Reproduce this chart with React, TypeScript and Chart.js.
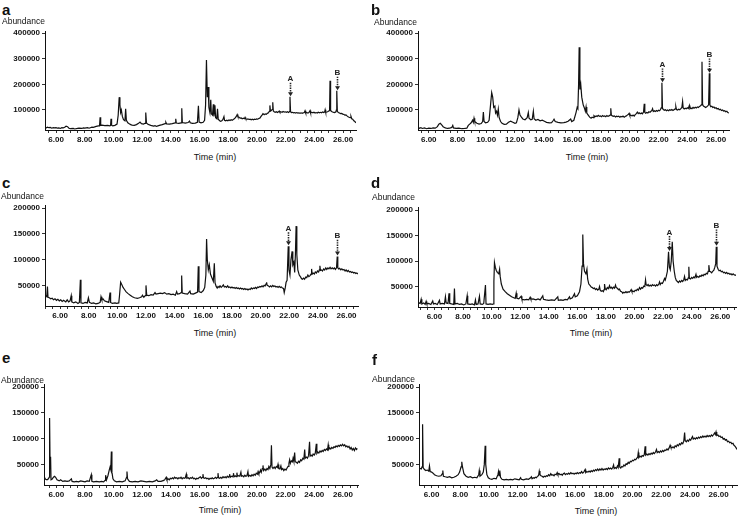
import React, { useEffect, useRef } from 'react';
import { Chart, registerables } from 'chart.js';
Chart.register(...registerables);

type Pt = [number, number];

// ---- chromatogram traces: [time (min), abundance] ----
const TRACE_A: Pt[] = [
  [5.23,35000],[5.3,30000],[5.4,33000],[5.5,31000],[5.6,32000],[5.7,29000],[5.8,31000],[5.9,30000],[6.0,31000],[6.1,29000],
  [6.2,30000],[6.3,28000],[6.4,31000],[6.5,30000],[6.6,33000],[6.7,37000],[6.8,35000],[6.9,29000],[7.0,27000],[7.2,28000],
  [7.3,26000],[7.5,28000],[7.6,29000],[7.8,28000],[7.9,30000],[8.0,29000],[8.2,31000],[8.3,29000],[8.5,33000],[8.6,32000],
  [8.8,36000],[8.95,38000],[9.03,38000],[9.07,72000],[9.11,40000],[9.2,41000],[9.4,39000],[9.6,40000],[9.75,38000],[9.8,40000],
  [9.83,66000],[9.87,41000],[9.95,38000],[10.1,40000],[10.25,45000],[10.33,80000],[10.4,150000],[10.45,120000],[10.5,90000],[10.55,100000],
  [10.62,75000],[10.7,62000],[10.8,58000],[10.85,105000],[10.9,60000],[11.0,50000],[11.1,46000],[11.2,43000],[11.3,41000],[11.45,40000],
  [11.6,43000],[11.75,48000],[11.85,53000],[11.95,47000],[12.1,45000],[12.2,48000],[12.25,90000],[12.3,50000],[12.4,44000],[12.6,40000],
  [12.8,37000],[12.9,39000],[13.0,36000],[13.2,40000],[13.4,43000],[13.6,47000],[13.65,52000],[13.7,46000],[13.9,45000],[14.1,47000],
  [14.3,50000],[14.34,66000],[14.38,49000],[14.55,48000],[14.72,50000],[14.76,107000],[14.8,51000],[15.0,49000],[15.2,51000],[15.3,57000],
  [15.35,50000],[15.5,48000],[15.7,49000],[15.85,52000],[15.92,116000],[15.97,53000],[16.1,50000],[16.25,52000],[16.35,60000],[16.42,120000],
  [16.48,295000],[16.54,150000],[16.6,190000],[16.65,110000],[16.72,90000],[16.78,140000],[16.82,85000],[16.9,80000],[16.96,122000],[17.0,75000],
  [17.07,118000],[17.12,70000],[17.2,66000],[17.25,105000],[17.3,64000],
  [17.4,58000],[17.47,56000],[17.55,58000],[17.62,62000],[17.7,74000],[17.74,60000],[17.82,58000],[17.9,60000],[17.97,58000],[18.05,61000],
  [18.12,59000],[18.2,62000],[18.27,60000],[18.35,63000],[18.42,66000],[18.5,70000],[18.57,76000],[18.62,82000],[18.67,74000],[18.75,72000],
  [18.82,68000],[18.9,69000],[18.97,66000],[19.05,68000],[19.12,66000],[19.17,71000],[19.22,65000],[19.3,64000],[19.37,65000],[19.45,63000],
  [19.52,64000],[19.6,62000],[19.67,64000],[19.75,62000],[19.82,64000],[19.9,63000],[19.97,65000],[20.05,64000],[20.12,67000],[20.2,68000],
  [20.27,74000],[20.35,80000],[20.42,86000],[20.5,82000],[20.57,85000],[20.65,83000],[20.72,87000],[20.8,89000],[20.86,95000],[20.9,118000],
  [20.94,96000],[21.0,98000],[21.05,102000],[21.1,130000],[21.14,96000],[21.2,93000],[21.27,91000],[21.35,93000],[21.42,90000],[21.5,93000],
  [21.55,96000],[21.6,91000],[21.67,93000],[21.75,91000],[21.82,94000],[21.9,92000],[21.97,93000],[22.05,91000],[22.12,93000],[22.2,90000],
  [22.26,94000],[22.3,152000],[22.34,93000],[22.4,90000],[22.47,91000],[22.55,89000],[22.62,90000],[22.7,88000],[22.77,90000],[22.85,88000],
  [22.92,89000],[23.0,87000],[23.07,89000],[23.15,87000],[23.22,89000],[23.3,90000],[23.35,97000],[23.4,88000],[23.47,90000],[23.55,88000],
  [23.62,90000],[23.7,98000],[23.74,89000],[23.82,91000],[23.9,89000],[23.97,91000],[24.05,88000],[24.12,90000],[24.2,88000],[24.27,91000],
  [24.35,89000],[24.42,91000],[24.5,89000],[24.57,92000],[24.65,90000],[24.72,93000],[24.75,101000],[24.79,91000],[24.87,92000],[24.95,94000],
  [25.02,97000],[25.06,100000],[25.09,214000],[25.13,98000],[25.2,94000],[25.27,92000],[25.35,91000],[25.42,90000],[25.5,93000],[25.53,100000],
  [25.56,175000],[25.6,95000],[25.67,90000],[25.75,88000],[25.82,86000],[25.9,87000],[25.97,84000],[26.05,83000],[26.12,80000],[26.2,81000],
  [26.27,77000],[26.35,74000],[26.42,72000],[26.5,70000],[26.55,75000],[26.6,66000],[26.67,64000],[26.75,58000],[26.82,55000],[26.9,50000],
];

const TRACE_B: Pt[] = [
  [5.25,33000],[5.35,29000],[5.45,31000],[5.55,28000],[5.7,30000],[5.85,27000],[6.0,29000],[6.15,28000],[6.3,30000],[6.45,29000],
  [6.6,35000],[6.7,45000],[6.8,48000],[6.9,42000],[7.0,35000],[7.15,30000],[7.3,28000],[7.45,29000],[7.6,32000],[7.67,40000],
  [7.72,30000],[7.9,28000],[8.1,29000],[8.3,27000],[8.5,28000],[8.65,29000],[8.75,40000],[8.85,45000],[8.95,50000],[9.05,60000],
  [9.1,52000],[9.15,68000],[9.2,55000],[9.35,48000],[9.5,45000],[9.65,47000],[9.75,55000],[9.8,92000],[9.85,55000],[9.95,50000],
  [10.1,52000],[10.2,60000],[10.3,120000],[10.38,168000],[10.45,150000],[10.52,110000],[10.6,115000],[10.65,88000],[10.72,95000],[10.78,80000],
  [10.84,104000],[10.9,70000],[11.0,55000],[11.1,48000],[11.25,44000],[11.4,45000],[11.55,52000],[11.7,56000],[11.85,52000],[12.0,48000],
  [12.1,50000],[12.2,70000],[12.28,100000],[12.35,80000],[12.45,72000],[12.55,65000],[12.7,62000],[12.85,70000],[12.93,90000],[12.98,68000],
  [13.1,62000],[13.2,64000],[13.28,95000],[13.33,66000],[13.45,60000],[13.6,63000],[13.75,58000],[13.9,60000],[14.05,56000],[14.2,52000],
  [14.4,50000],[14.55,51000],[14.65,58000],[14.72,64000],[14.8,55000],[15.0,52000],[15.2,50000],[15.4,51000],[15.55,53000],[15.7,56000],
  [15.82,62000],[15.88,65000],[15.95,55000],[16.1,60000],[16.25,90000],[16.33,110000],[16.38,105000],[16.43,200000],[16.47,345000],[16.52,180000],
  [16.58,200000],[16.65,150000],[16.7,135000],[16.75,120000],[16.82,110000],[16.9,95000],[16.95,112000],[17.0,88000],[17.1,80000],[17.2,72000],
  [17.3,68000],[17.37,72000],[17.45,70000],[17.5,78000],[17.57,74000],[17.65,77000],[17.72,75000],[17.8,79000],[17.87,75000],[17.95,77000],
  [18.02,74000],[18.1,78000],[18.17,75000],[18.25,77000],[18.32,74000],[18.4,78000],[18.47,75000],[18.55,77000],[18.62,80000],[18.67,107000],
  [18.71,80000],[18.78,77000],[18.85,75000],[18.92,77000],[19.0,73000],[19.07,76000],[19.15,74000],[19.22,76000],[19.3,72000],[19.37,75000],
  [19.45,73000],[19.52,76000],[19.6,72000],[19.67,75000],[19.75,77000],[19.82,80000],[19.9,83000],[19.95,87000],[20.0,78000],[20.07,80000],
  [20.15,77000],[20.22,80000],[20.3,76000],[20.37,82000],[20.45,86000],[20.52,92000],[20.58,86000],[20.65,89000],[20.72,85000],[20.8,88000],
  [20.87,85000],[20.95,92000],[21.0,124000],[21.04,90000],[21.1,87000],[21.17,90000],[21.25,88000],[21.32,93000],[21.4,91000],[21.47,95000],
  [21.53,98000],[21.58,105000],[21.63,94000],[21.7,97000],[21.77,94000],[21.85,98000],[21.92,95000],[22.0,99000],[22.07,97000],[22.13,102000],
  [22.18,108000],[22.23,206000],[22.27,106000],[22.33,102000],[22.4,99000],[22.47,101000],[22.55,97000],[22.62,100000],[22.7,97000],[22.77,101000],
  [22.85,99000],[22.92,102000],[23.0,98000],[23.07,101000],[23.15,104000],[23.2,113000],[23.24,102000],[23.32,100000],[23.4,103000],[23.47,101000],
  [23.55,105000],[23.62,110000],[23.67,133000],[23.71,108000],[23.78,104000],[23.85,107000],[23.92,105000],[24.0,109000],[24.07,106000],[24.14,118000],
  [24.18,105000],[24.25,108000],[24.32,105000],[24.4,110000],[24.47,107000],[24.55,111000],[24.62,108000],[24.7,112000],[24.77,110000],[24.85,114000],
  [24.92,116000],[24.97,120000],[25.02,288000],[25.06,122000],[25.12,115000],[25.2,113000],[25.27,110000],[25.35,113000],[25.42,116000],[25.48,120000],
  [25.53,243000],[25.57,120000],[25.63,113000],[25.7,115000],[25.77,110000],[25.85,112000],[25.92,107000],[26.0,109000],[26.07,104000],[26.15,106000],
  [26.22,101000],[26.3,103000],[26.37,98000],[26.45,100000],[26.52,96000],[26.6,97000],[26.67,93000],[26.75,95000],[26.82,90000],[26.9,88000],
];

const TRACE_C: Pt[] = [
  [5.0,30000],[5.07,28000],[5.12,48000],[5.16,27000],[5.25,26000],[5.35,24000],[5.45,25000],[5.55,22000],[5.65,24000],[5.75,21000],
  [5.85,23000],[5.95,20000],[6.05,22000],[6.15,19000],[6.25,21000],[6.4,18000],[6.5,22000],[6.6,18000],[6.7,20000],[6.78,30000],
  [6.82,18000],[6.95,16000],[7.1,18000],[7.25,15000],[7.35,17000],[7.42,61000],[7.46,16000],[7.6,15000],[7.75,17000],[7.9,16000],
  [7.98,26000],[8.05,17000],[8.2,15000],[8.35,16000],[8.5,14000],[8.65,15000],[8.8,17000],[8.86,28000],[8.92,22000],[9.0,24000],
  [9.1,20000],[9.2,19000],[9.3,18000],[9.4,17000],[9.49,36000],[9.53,17000],[9.65,15000],[9.84,16000],[9.95,15000],[10.1,16000],
  [10.15,30000],[10.23,56000],[10.3,52000],[10.4,46000],[10.5,42000],[10.6,38000],[10.75,34000],[10.9,31000],[11.05,28000],[11.2,26000],
  [11.4,25000],[11.55,26000],[11.7,28000],[11.75,31000],[11.85,27000],[11.95,30000],[12.0,50000],[12.05,31000],[12.2,30000],[12.35,32000],
  [12.5,31000],[12.63,36000],[12.7,33000],[12.85,34000],[13.0,35000],[13.15,34000],[13.3,36000],[13.45,33000],[13.6,34000],[13.75,32000],
  [13.9,33000],[14.05,31000],[14.14,38000],[14.2,33000],[14.35,34000],[14.45,36000],[14.49,69000],[14.53,35000],[14.7,34000],[14.9,33000],
  [15.07,39000],[15.12,34000],[15.3,33000],[15.45,35000],[15.6,37000],[15.65,87000],[15.7,38000],[15.85,36000],[16.0,40000],[16.1,46000],
  [16.18,70000],[16.23,140000],[16.28,100000],[16.35,80000],[16.42,90000],[16.5,72000],[16.6,65000],[16.7,58000],[16.77,93000],[16.82,55000],
  [16.9,48000],[16.97,45000],[17.03,48000],[17.1,46000],[17.17,49000],[17.25,46000],[17.32,48000],[17.4,51000],[17.47,47000],[17.55,48000],
  [17.62,46000],[17.7,49000],[17.77,46000],[17.85,47000],[17.92,45000],[18.0,47000],[18.08,45000],[18.15,46000],[18.22,44000],[18.3,46000],
  [18.38,44000],[18.45,45000],[18.52,43000],[18.6,45000],[18.68,43000],[18.75,44000],[18.82,42000],[18.9,44000],[18.97,42000],[19.05,43000],
  [19.12,41000],[19.2,43000],[19.28,42000],[19.35,45000],[19.42,43000],[19.5,45000],[19.57,44000],[19.65,46000],[19.72,44000],[19.8,47000],
  [19.87,46000],[19.95,48000],[20.02,47000],[20.1,49000],[20.17,47000],[20.25,50000],[20.32,49000],[20.38,53000],[20.42,56000],[20.46,50000],
  [20.55,49000],[20.62,47000],[20.7,49000],[20.77,47000],[20.85,50000],[20.92,48000],[21.0,49000],[21.07,47000],[21.15,48000],[21.22,46000],
  [21.3,48000],[21.38,46000],[21.45,47000],[21.52,45000],[21.6,44000],[21.65,36000],
  [21.72,45000],[21.78,56000],[21.85,60000],[21.93,126000],[21.98,80000],[22.05,70000],[22.12,100000],[22.2,116000],[22.25,90000],[22.32,95000],
  [22.38,75000],[22.43,110000],[22.48,165000],[22.53,110000],[22.6,80000],[22.7,70000],
  [22.8,66000],[22.86,63000],[22.93,62000],[23.0,64000],[23.07,62000],[23.15,66000],[23.22,65000],[23.3,70000],[23.37,67000],[23.45,69000],
  [23.52,72000],[23.56,82000],[23.6,72000],[23.67,74000],[23.75,72000],[23.82,76000],[23.9,74000],[23.97,78000],[24.05,76000],[24.1,80000],
  [24.14,88000],[24.18,79000],[24.25,80000],[24.32,78000],[24.4,82000],[24.47,80000],[24.55,84000],[24.62,81000],[24.7,84000],[24.77,82000],
  [24.85,85000],[24.92,82000],[25.0,84000],[25.07,82000],[25.15,84000],[25.22,81000],[25.3,84000],[25.35,106000],[25.39,84000],[25.45,82000],
  [25.52,83000],[25.6,80000],[25.67,82000],[25.75,80000],[25.82,81000],[25.9,78000],[25.97,80000],[26.05,77000],[26.12,79000],[26.2,76000],
  [26.27,77000],[26.35,75000],[26.42,76000],[26.5,74000],[26.57,75000],[26.65,73000],[26.72,74000],[26.8,72000],
];

const TRACE_D: Pt[] = [
  [4.9,18000],[5.0,17000],[5.07,25000],[5.12,16000],[5.25,18000],[5.35,15000],[5.42,21000],[5.47,16000],[5.6,17000],[5.75,15000],
  [5.88,22000],[5.93,16000],[6.05,17000],[6.2,15000],[6.35,23000],[6.4,16000],[6.55,17000],[6.7,16000],[6.77,30000],[6.82,18000],
  [6.95,17000],[7.02,37000],[7.07,17000],[7.2,16000],[7.35,15000],[7.4,46000],[7.44,16000],[7.6,17000],[7.75,15000],[7.9,16000],
  [8.05,14000],[8.2,16000],[8.29,32000],[8.33,16000],[8.5,15000],[8.65,16000],[8.8,14000],[8.87,24000],[8.92,15000],[9.05,16000],
  [9.15,31000],[9.2,16000],[9.35,15000],[9.45,17000],[9.57,53000],[9.61,16000],[9.75,15000],[9.9,16000],[10.05,15000],[10.13,16000],
  [10.16,60000],[10.2,97000],[10.26,88000],[10.32,82000],[10.4,78000],[10.5,75000],[10.56,84000],[10.6,70000],[10.68,55000],[10.8,45000],
  [10.95,40000],[11.1,36000],[11.25,33000],[11.4,30000],[11.55,28000],[11.65,27000],[11.72,37000],[11.77,27000],[11.9,26000],[12.07,31000],
  [12.12,25000],[12.3,24000],[12.45,25000],[12.6,24000],[12.7,29000],[12.75,25000],[12.9,26000],[13.1,24000],[13.25,26000],[13.4,24000],
  [13.58,32000],[13.63,25000],[13.8,24000],[14.0,23000],[14.2,24000],[14.4,23000],[14.63,30000],[14.67,23000],[14.85,24000],[15.0,23000],
  [15.15,25000],[15.3,24000],[15.45,30000],[15.5,26000],[15.65,28000],[15.8,36000],[15.85,30000],[16.0,32000],[16.15,40000],[16.25,55000],
  [16.33,90000],[16.38,152000],[16.43,95000],[16.5,80000],[16.6,75000],[16.67,84000],[16.72,65000],[16.8,55000],
  [16.9,52000],[16.97,49000],[17.05,48000],[17.12,46000],[17.2,47000],[17.27,44000],[17.35,46000],[17.42,43000],[17.5,45000],[17.55,50000],
  [17.6,43000],[17.67,41000],[17.75,42000],[17.82,40000],[17.87,44000],[17.9,55000],[17.95,46000],[18.02,44000],[18.1,48000],[18.17,46000],
  [18.25,52000],[18.3,47000],[18.37,49000],[18.45,46000],[18.52,49000],[18.6,47000],[18.67,53000],[18.72,48000],[18.8,47000],[18.87,44000],
  [18.95,45000],[19.02,41000],[19.1,40000],[19.18,37000],[19.25,39000],[19.32,38000],[19.4,40000],[19.47,38000],[19.55,40000],[19.62,39000],
  [19.7,41000],[19.77,44000],[19.82,40000],[19.9,41000],[19.97,40000],[20.05,43000],[20.12,42000],[20.2,45000],[20.27,43000],[20.35,48000],
  [20.42,45000],[20.5,48000],[20.57,47000],[20.65,51000],[20.72,50000],[20.77,63000],[20.81,54000],[20.88,52000],[20.95,54000],[21.02,51000],
  [21.1,53000],[21.17,51000],[21.25,54000],[21.32,52000],[21.4,53000],[21.47,51000],[21.55,54000],[21.62,52000],[21.7,55000],[21.75,59000],
  [21.8,54000],[21.87,57000],[21.95,56000],[22.02,60000],[22.1,66000],[22.15,63000],[22.22,70000],[22.3,80000],[22.38,118000],[22.44,88000],
  [22.5,83000],[22.57,100000],[22.64,138000],[22.7,100000],[22.78,80000],[22.85,68000],[22.92,62000],[23.0,60000],[23.07,58000],[23.15,61000],
  [23.22,59000],[23.3,62000],[23.37,60000],[23.45,64000],[23.5,70000],[23.55,62000],[23.62,64000],[23.7,63000],[23.76,67000],[23.8,89000],
  [23.84,66000],[23.92,65000],[24.0,68000],[24.07,66000],[24.15,69000],[24.22,67000],[24.3,74000],[24.35,68000],[24.42,70000],[24.5,68000],
  [24.57,71000],[24.65,70000],[24.72,73000],[24.8,71000],[24.87,74000],[24.95,73000],[25.02,76000],[25.1,75000],[25.15,80000],[25.2,92000],
  [25.25,80000],[25.32,79000],[25.4,77000],[25.47,80000],[25.55,82000],[25.62,88000],[25.68,95000],[25.72,128000],[25.77,90000],[25.85,84000],
  [25.92,81000],[26.0,82000],[26.07,79000],[26.15,80000],[26.22,77000],[26.3,78000],[26.37,76000],[26.45,78000],[26.52,75000],[26.6,76000],
  [26.67,74000],[26.75,75000],[26.82,73000],[26.9,75000],[26.97,73000],[27.05,72000],[27.1,73000],
];

const TRACE_E: Pt[] = [
  [5.15,26000],[5.25,21000],[5.35,20000],[5.45,22000],[5.5,25000],[5.53,140000],[5.56,60000],[5.6,65000],[5.63,20000],[5.7,21000],
  [5.8,25000],[5.88,27000],[5.95,25000],[6.05,20000],[6.2,18000],[6.3,20000],[6.45,17000],[6.6,18000],[6.75,17000],[6.9,18000],
  [7.05,22000],[7.1,17000],[7.25,16000],[7.4,17000],[7.55,16000],[7.7,18000],[7.85,17000],[8.0,16000],[8.15,18000],[8.3,17000],
  [8.44,30000],[8.48,17000],[8.6,16000],[8.8,17000],[9.0,16000],[9.15,17000],[9.3,16000],[9.4,19000],[9.44,29000],[9.5,20000],
  [9.6,28000],[9.7,40000],[9.75,45000],[9.8,40000],[9.84,75000],[9.88,35000],[9.95,22000],[10.05,18000],[10.2,16000],[10.4,17000],
  [10.6,16000],[10.8,18000],[10.9,25000],[10.93,36000],[10.97,22000],[11.1,17000],[11.3,16000],[11.5,17000],[11.7,16000],[11.9,18000],
  [12.1,17000],[12.3,16000],[12.5,17000],[12.7,16000],[12.9,18000],[13.0,20000],[13.1,17000],[13.3,17000],
  [13.5,19000],[13.58,21000],[13.67,25000],[13.72,20000],[13.8,22000],[13.88,20000],[13.95,23000],[14.03,22000],[14.1,24000],[14.18,22000],
  [14.25,25000],[14.33,23000],[14.4,24000],[14.48,22000],[14.55,24000],[14.63,23000],[14.7,25000],[14.78,22000],[14.85,24000],[14.93,23000],
  [15.0,24000],[15.07,31000],[15.11,23000],[15.2,24000],[15.28,22000],[15.35,24000],[15.43,23000],[15.5,25000],[15.58,22000],[15.65,23000],
  [15.73,21000],[15.8,23000],[15.88,22000],[15.95,24000],[16.05,26000],[16.12,23000],[16.2,25000],[16.23,31000],[16.27,24000],[16.35,23000],
  [16.43,24000],[16.5,22000],[16.58,23000],[16.65,21000],[16.73,23000],[16.8,22000],[16.88,24000],[16.95,22000],[17.03,23000],[17.1,25000],
  [17.18,23000],[17.25,25000],[17.28,33000],[17.32,24000],[17.4,23000],[17.48,25000],[17.55,23000],[17.63,26000],[17.7,24000],[17.78,26000],
  [17.85,24000],[17.93,27000],[18.0,25000],[18.06,27000],[18.09,31000],[18.13,25000],[18.2,27000],[18.28,26000],[18.33,28000],[18.36,33000],
  [18.4,26000],[18.48,28000],[18.55,26000],[18.6,34000],[18.64,27000],[18.72,28000],[18.8,27000],[18.88,35000],[18.92,27000],[19.0,28000],
  [19.08,26000],[19.15,29000],[19.22,27000],[19.3,28000],[19.37,36000],[19.41,27000],[19.5,29000],[19.58,27000],[19.65,30000],[19.73,28000],
  [19.8,31000],[19.88,29000],[19.95,33000],[20.03,31000],[20.08,36000],[20.13,32000],[20.2,35000],[20.25,39000],[20.3,35000],[20.37,42000],
  [20.42,48000],[20.46,38000],[20.55,41000],[20.62,38000],[20.7,42000],[20.77,40000],[20.83,46000],[20.9,42000],[20.97,50000],[21.01,87000],
  [21.05,45000],[21.12,42000],[21.2,45000],[21.27,42000],[21.35,46000],[21.42,44000],[21.47,50000],[21.52,42000],[21.6,41000],[21.67,47000],
  [21.72,40000],[21.8,42000],[21.87,38000],[21.95,41000],[22.03,39000],[22.1,43000],[22.17,46000],[22.23,52000],[22.28,59000],[22.33,52000],
  [22.4,57000],[22.47,55000],[22.52,62000],[22.57,56000],[22.63,73000],[22.67,55000],[22.75,54000],[22.82,52000],[22.9,56000],[22.97,54000],
  [23.05,59000],[23.12,57000],[23.2,62000],[23.27,60000],[23.33,79000],[23.37,62000],[23.45,64000],[23.52,62000],[23.6,67000],[23.67,94000],
  [23.71,66000],[23.78,68000],[23.85,66000],[23.92,70000],[24.0,68000],[24.07,72000],[24.14,90000],[24.18,71000],[24.25,74000],[24.32,72000],
  [24.4,76000],[24.47,74000],[24.55,77000],[24.62,75000],[24.7,79000],[24.77,77000],[24.85,80000],[24.92,78000],[24.97,88000],[25.01,79000],
  [25.08,82000],[25.15,80000],[25.22,83000],[25.3,81000],[25.37,84000],[25.45,83000],[25.52,86000],[25.6,84000],[25.67,87000],[25.75,85000],
  [25.82,88000],[25.9,86000],[25.97,89000],[26.05,86000],[26.12,88000],[26.2,84000],[26.27,86000],[26.35,83000],[26.42,85000],[26.5,80000],
  [26.57,83000],[26.65,78000],[26.72,81000],[26.8,77000],[26.87,82000],[26.95,79000],[27.0,81000],
];

const TRACE_F: Pt[] = [
  [5.12,40000],[5.2,42000],[5.28,41000],[5.33,45000],[5.37,128000],[5.41,44000],[5.5,40000],[5.6,38000],[5.7,39000],[5.8,37000],
  [5.85,47000],[5.9,36000],[6.0,35000],[6.1,33000],[6.2,30000],[6.35,28000],[6.5,27000],[6.65,28000],[6.75,32000],[6.78,38000],
  [6.82,27000],[6.95,26000],[7.1,25000],[7.25,26000],[7.4,24000],[7.55,25000],[7.7,27000],[7.85,30000],[7.95,35000],[8.05,45000],
  [8.1,55000],[8.15,45000],[8.25,32000],[8.4,27000],[8.55,25000],[8.7,26000],[8.85,24000],[9.0,25000],[9.15,24000],[9.28,30000],
  [9.32,38000],[9.37,27000],[9.5,30000],[9.6,35000],[9.67,50000],[9.73,86000],[9.77,50000],[9.85,30000],[9.95,24000],[10.05,22000],
  [10.2,21000],[10.35,23000],[10.5,22000],[10.62,30000],[10.66,36000],[10.7,28000],[10.75,38000],[10.8,25000],[10.9,21000],[11.05,20000],
  [11.2,21000],[11.35,20000],[11.5,21000],[11.65,20000],[11.8,22000],[11.95,21000],[12.1,20000],[12.2,24000],[12.25,21000],[12.4,20000],
  [12.6,22000],[12.75,21000],[12.9,24000],[12.95,26000],
  [13.0,22000],[13.08,24000],[13.15,23000],[13.23,25000],[13.3,24000],[13.38,27000],[13.45,28000],[13.5,37000],[13.55,30000],[13.62,28000],
  [13.7,27000],[13.78,25000],[13.85,27000],[13.93,26000],[14.0,28000],[14.08,27000],[14.15,30000],[14.23,28000],[14.3,32000],[14.38,29000],
  [14.45,30000],[14.53,28000],[14.6,31000],[14.68,30000],[14.75,34000],[14.8,30000],[14.88,32000],[14.95,30000],[15.03,31000],[15.1,29000],
  [15.18,32000],[15.25,33000],[15.32,30000],[15.4,32000],[15.48,31000],[15.55,33000],[15.62,31000],[15.7,34000],[15.78,32000],[15.85,33000],
  [15.93,31000],[16.0,33000],[16.08,32000],[16.15,34000],[16.22,32000],[16.3,34000],[16.38,33000],[16.45,36000],[16.53,33000],[16.6,35000],
  [16.7,40000],[16.74,34000],[16.82,36000],[16.9,35000],[16.97,37000],[17.05,35000],[17.12,38000],[17.2,36000],[17.28,39000],[17.35,37000],
  [17.42,40000],[17.5,38000],[17.57,41000],[17.65,38000],[17.72,41000],[17.8,39000],[17.87,42000],[17.95,39000],[18.02,41000],[18.1,40000],
  [18.17,42000],[18.25,40000],[18.32,43000],[18.4,41000],[18.47,43000],[18.55,41000],[18.62,44000],[18.68,49000],[18.72,42000],[18.8,44000],
  [18.87,42000],[18.95,47000],[19.0,44000],[19.07,62000],[19.11,45000],[19.18,43000],[19.25,46000],[19.32,45000],[19.4,49000],[19.47,47000],
  [19.55,51000],[19.62,50000],[19.7,54000],[19.77,52000],[19.85,56000],[19.92,55000],[20.0,58000],[20.07,57000],[20.15,60000],[20.22,59000],
  [20.3,62000],[20.36,64000],[20.4,73000],[20.44,63000],[20.52,66000],[20.6,64000],[20.67,67000],[20.75,66000],[20.82,69000],[20.88,85000],
  [20.92,68000],[21.0,70000],[21.07,68000],[21.15,71000],[21.22,69000],[21.3,72000],[21.37,70000],[21.45,73000],[21.52,71000],[21.6,74000],
  [21.67,79000],[21.72,73000],[21.8,75000],[21.87,73000],[21.95,76000],[22.02,74000],[22.1,77000],[22.17,75000],[22.25,78000],[22.32,77000],
  [22.4,80000],[22.47,78000],[22.55,82000],[22.62,87000],[22.67,83000],[22.75,82000],[22.82,84000],[22.9,82000],[22.97,86000],[23.05,84000],
  [23.12,88000],[23.2,86000],[23.27,90000],[23.35,88000],[23.42,92000],[23.5,90000],[23.57,95000],[23.63,112000],[23.67,96000],[23.75,94000],
  [23.82,97000],[23.9,95000],[23.97,99000],[24.05,97000],[24.12,101000],[24.18,104000],[24.23,99000],[24.3,101000],[24.38,99000],[24.45,102000],
  [24.52,100000],[24.6,103000],[24.67,101000],[24.75,104000],[24.82,102000],[24.9,105000],[24.97,103000],[25.05,105000],[25.12,103000],[25.2,106000],
  [25.27,104000],[25.35,106000],[25.42,104000],[25.5,107000],[25.57,105000],[25.65,108000],[25.72,111000],[25.77,108000],[25.82,113000],[25.87,106000],
  [25.95,107000],[26.02,104000],[26.1,105000],[26.17,102000],[26.25,103000],[26.32,99000],[26.4,100000],[26.47,97000],[26.55,98000],[26.62,94000],
  [26.7,95000],[26.77,92000],[26.85,93000],[26.92,90000],[27.0,91000],[27.07,87000],[27.15,85000],[27.22,82000],[27.28,79000],
];

// ---- peak markers (A, B): time, arrow start and tip abundance ----
type Arrow = { label: string; time: number; from: number; to: number };
const ARROWS_A: Arrow[] = [{ label: 'A', time: 22.3, from: 206000, to: 154000 }, { label: 'B', time: 25.56, from: 230000, to: 177000 }];
const ARROWS_B: Arrow[] = [{ label: 'A', time: 22.23, from: 262000, to: 208000 }, { label: 'B', time: 25.53, from: 301000, to: 245000 }];
const ARROWS_C: Arrow[] = [{ label: 'A', time: 21.93, from: 153000, to: 128000 }, { label: 'B', time: 25.35, from: 138500, to: 108000 }];
const ARROWS_D: Arrow[] = [{ label: 'A', time: 22.38, from: 149000, to: 120000 }, { label: 'B', time: 25.72, from: 162000, to: 130000 }];

// ---- tick labels ----
const X_TICK_LABELS = [6, 8, 10, 12, 14, 16, 18, 20, 22, 24, 26];
const Y_TICKS_400K = [100000, 200000, 300000, 400000];
const Y_TICKS_200K = [50000, 100000, 150000, 200000];
const X_TITLE = 'Time (min)';
const Y_TITLE = 'Abundance';

const FONT = '"Liberation Sans", Arial, Helvetica, sans-serif';

interface Panel {
  letter: string; data: Pt[]; arrows: Arrow[];
  xMin: number; xMax: number; yMin: number; yMax: number; yTicks: number[];
  panelX: number; plot: { l: number; t: number; r: number; b: number };
  letterX: number; letterBase: number; absX: number; absBase: number; timeX: number; timeBase: number;
}

const PANELS: Panel[] = [
  { letter: 'a', data: TRACE_A, arrows: ARROWS_A, xMin: 5.23, xMax: 26.9, yMin: 22000, yMax: 408000, yTicks: Y_TICKS_400K,
    panelX: 0, plot: { l: 45, t: 31, r: 356, b: 130 }, letterX: 2, letterBase: 15, absX: 2, absBase: 24, timeX: 215, timeBase: 161 },
  { letter: 'b', data: TRACE_B, arrows: ARROWS_B, xMin: 5.25, xMax: 26.9, yMin: 22000, yMax: 408000, yTicks: Y_TICKS_400K,
    panelX: 369, plot: { l: 418, t: 31, r: 729, b: 130 }, letterX: 371, letterBase: 15, absX: 374, absBase: 25, timeX: 587, timeBase: 161 },
  { letter: 'c', data: TRACE_C, arrows: ARROWS_C, xMin: 4.95, xMax: 26.8, yMin: 10000, yMax: 206000, yTicks: Y_TICKS_200K,
    panelX: 0, plot: { l: 45, t: 205, r: 358, b: 306 }, letterX: 2, letterBase: 188, absX: 1, absBase: 199, timeX: 215, timeBase: 336.5 },
  { letter: 'd', data: TRACE_D, arrows: ARROWS_D, xMin: 4.85, xMax: 27.1, yMin: 10000, yMax: 206000, yTicks: Y_TICKS_200K,
    panelX: 369, plot: { l: 418, t: 207, r: 736, b: 307 }, letterX: 371, letterBase: 188, absX: 372, absBase: 200, timeX: 591, timeBase: 337 },
  { letter: 'e', data: TRACE_E, arrows: [], xMin: 5.14, xMax: 27.05, yMin: 10000, yMax: 206000, yTicks: Y_TICKS_200K,
    panelX: 0, plot: { l: 44, t: 384, r: 358, b: 485 }, letterX: 2, letterBase: 363, absX: 1, absBase: 383, timeX: 220, timeBase: 513.5 },
  { letter: 'f', data: TRACE_F, arrows: [], xMin: 5.12, xMax: 27.28, yMin: 10000, yMax: 206000, yTicks: Y_TICKS_200K,
    panelX: 369, plot: { l: 419, t: 384, r: 737, b: 485 }, letterX: 372, letterBase: 365, absX: 372, absBase: 382, timeX: 596, timeBase: 515 },
];

const PAD_TOP = 8;
const PAD_RIGHT = 4;
const X_AXIS_H = 16;

function arrowPlugin(arrows: Arrow[]) {
  return {
    id: 'peakArrows',
    afterDatasetsDraw(chart: any) {
      const { ctx, scales } = chart;
      const xs = scales.x, ys = scales.y;
      ctx.save();
      arrows.forEach((a) => {
        const px = Math.round(xs.getPixelForValue(a.time)) + 0.5;
        const y0 = ys.getPixelForValue(a.from);
        const y1 = ys.getPixelForValue(a.to);
        ctx.strokeStyle = '#222';
        ctx.lineWidth = 1.6;
        ctx.setLineDash([1.4, 1]);
        ctx.beginPath();
        ctx.moveTo(px, y0);
        ctx.lineTo(px, y1 - 3.5);
        ctx.stroke();
        ctx.setLineDash([]);
        ctx.fillStyle = '#222';
        ctx.beginPath();
        ctx.moveTo(px - 2.5, y1 - 4);
        ctx.lineTo(px + 2.5, y1 - 4);
        ctx.lineTo(px, y1);
        ctx.closePath();
        ctx.fill();
        ctx.font = `bold 8px ${FONT}`;
        ctx.textAlign = 'center';
        ctx.textBaseline = 'alphabetic';
        ctx.fillText(a.label, px, y0 - 1.5);
      });
      ctx.restore();
    },
  };
}

function ChartPanel({ p }: { p: Panel }) {
  const ref = useRef<HTMLCanvasElement | null>(null);
  const cLeft = p.panelX;
  const cTop = p.plot.t - PAD_TOP;
  const cW = p.plot.r + PAD_RIGHT - p.panelX;
  const cH = p.plot.b - p.plot.t + PAD_TOP + X_AXIS_H;
  const yAxisW = p.plot.l - p.panelX;

  useEffect(() => {
    if (!ref.current) return;
    const minor: number[] = [];
    for (let v = Math.ceil(p.xMin * 2) / 2; v <= p.xMax; v += 0.5) minor.push(v);
    const tickFont = { family: FONT, size: 8, weight: 'bold' as const };
    const chart = new Chart(ref.current, {
      type: 'line',
      data: {
        datasets: [{
          data: p.data.map(([x, y]) => ({ x, y })),
          borderColor: '#111',
          borderWidth: 1.2,
          pointRadius: 0,
          tension: 0,
          fill: false,
        }],
      },
      options: {
        responsive: false,
        animation: false,
        devicePixelRatio: 1,
        events: [],
        layout: { padding: { top: PAD_TOP, right: PAD_RIGHT, left: 0, bottom: 0 }, autoPadding: false },
        plugins: { legend: { display: false }, tooltip: { enabled: false }, title: { display: false } },
        scales: {
          x: {
            type: 'linear', min: p.xMin, max: p.xMax,
            afterFit: (s: any) => { s.height = X_AXIS_H; },
            afterBuildTicks: (s: any) => { s.ticks = minor.map((value) => ({ value })); },
            ticks: {
              autoSkip: false, maxRotation: 0, minRotation: 0, padding: 2, color: '#111', font: tickFont,
              callback: (v: any) => (X_TICK_LABELS.includes(Number(v)) ? Number(v).toFixed(2) : ''),
            },
            grid: { drawOnChartArea: false, drawTicks: true, tickLength: 3, color: '#333' },
            border: { display: true, color: '#111', width: 1 },
          },
          y: {
            type: 'linear', min: p.yMin, max: p.yMax,
            afterFit: (s: any) => { s.width = yAxisW; },
            afterBuildTicks: (s: any) => { s.ticks = p.yTicks.map((value) => ({ value })); },
            ticks: { padding: 2, color: '#111', font: tickFont, callback: (v: any) => String(v) },
            grid: { drawOnChartArea: false, drawTicks: true, tickLength: 3, color: '#333' },
            border: { display: true, color: '#111', width: 1 },
          },
        },
      },
      plugins: [arrowPlugin(p.arrows)],
    } as any);
    return () => chart.destroy();
  }, [p]);

  return (
    <canvas
      ref={ref}
      width={cW}
      height={cH}
      style={{ position: 'absolute', left: cLeft, top: cTop, width: cW, height: cH }}
    />
  );
}

function Label({ text, x, base, size, bold, center }: { text: string; x: number; base: number; size: number; bold?: boolean; center?: boolean }) {
  return (
    <div
      style={{
        position: 'absolute', left: x, top: base - 0.85 * size, fontFamily: FONT, fontSize: size,
        lineHeight: `${size}px`, fontWeight: bold ? 700 : 400, color: '#111', whiteSpace: 'nowrap',
        transform: center ? 'translateX(-50%)' : undefined,
      }}
    >
      {text}
    </div>
  );
}

export default function App() {
  return (
    <div style={{ position: 'absolute', left: 0, top: 0, width: 738, height: 518, background: '#fff', overflow: 'hidden' }}>
      {PANELS.map((p) => (
        <React.Fragment key={p.letter}>
          <ChartPanel p={p} />
          <Label text={p.letter} x={p.letterX} base={p.letterBase} size={15} bold />
          <Label text={Y_TITLE} x={p.absX} base={p.absBase} size={8.5} />
          <Label text={X_TITLE} x={p.timeX} base={p.timeBase} size={9} center />
        </React.Fragment>
      ))}
    </div>
  );
}
